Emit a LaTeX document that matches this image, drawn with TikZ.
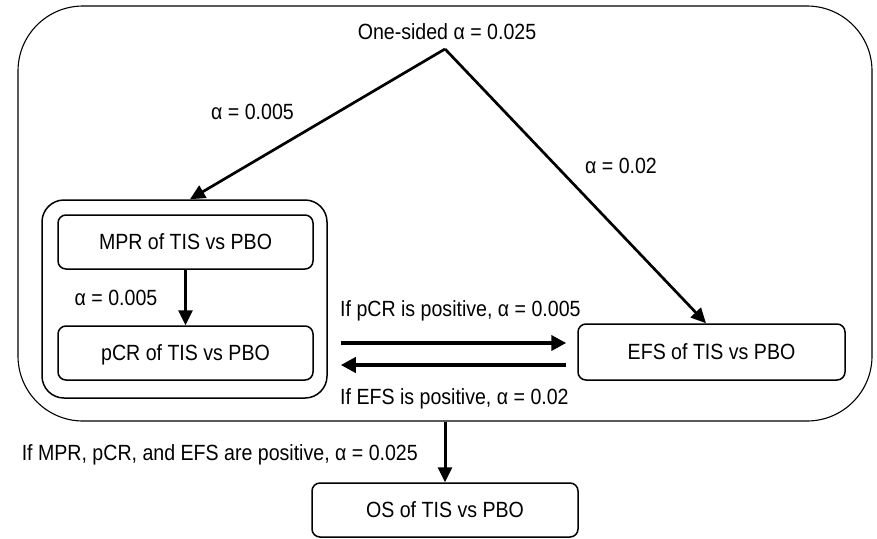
\documentclass[tikz,border=0pt]{standalone}
\usepackage{fontspec}
\setmainfont{Liberation Sans}[FakeStretch=0.89]
\usetikzlibrary{arrows.meta,calc}
\newcommand{\lblfont}{\fontsize{22}{26}\selectfont}
\begin{document}
\begin{tikzpicture}[x=1pt,y=-1pt,
  lbl/.style={font=\lblfont, inner sep=0pt},
  stepbox/.style={draw, line width=1.5pt, rounded corners=8pt, inner sep=0pt,
    text height=15.7pt, text depth=0pt, font=\lblfont},
  darrow/.style={line width=2.7pt, -{Triangle[length=15pt,width=14pt]}},
  varrow/.style={line width=3pt, -{Triangle[length=15pt,width=14pt]}},
  harrow/.style={line width=4.5pt, -{Triangle[length=15pt,width=15pt]}}]
\useasboundingbox (0,0) rectangle (877,538);
% containers
\node[draw, line width=1.1pt, rounded corners=65pt, minimum width=854pt, minimum height=415pt, inner sep=0pt] (outer) at (445,213.5) {};
\node[draw, line width=1.5pt, rounded corners=22pt, minimum width=285pt, minimum height=198pt, inner sep=0pt] (grp) at (184.5,299) {};
% boxes
\node[stepbox, minimum width=255pt, minimum height=54pt] (mpr) at (185.5,242) {MPR of TIS vs PBO};
\node[stepbox, minimum width=255pt, minimum height=54pt] (pcr) at (185.5,353) {pCR of TIS vs PBO};
\node[stepbox, minimum width=267pt, minimum height=56pt] (efs) at (711.5,352) {EFS of TIS vs PBO};
\node[stepbox, minimum width=266pt, minimum height=54pt] (os) at (445,510) {OS of TIS vs PBO};
% top
\node[lbl, anchor=base] (toplbl) at (447,39) {One-sided α = 0.025};
\coordinate (apex) at (445,49);
% connectors
\draw[darrow] (apex) -- ([xshift=5.5pt]grp.north);
\draw[darrow] (apex) -- ([xshift=-5.5pt]efs.north);
\draw[varrow] (mpr.south) -- (pcr.north);
\draw[harrow] ([xshift=27pt,yshift=10pt]pcr.east) -- ([xshift=-11pt,yshift=9pt]efs.west);
\draw[harrow] ([xshift=-11pt,yshift=-13pt]efs.west) -- ([xshift=27pt,yshift=-12pt]pcr.east);
\draw[varrow] (outer.south) -- (os.north);
% labels
\node[lbl, anchor=base] (l1) at (252.5,119) {α = 0.005};
\node[lbl, anchor=base] (l2) at (621,173) {α = 0.02};
\node[lbl, anchor=base] (l3) at (116,305) {α = 0.005};
\node[lbl, anchor=base west] (l4) at (340,316) {If pCR is positive, α = 0.005};
\node[lbl, anchor=base west] (l5) at (340,404) {If EFS is positive, α = 0.02};
\node[lbl, anchor=base east] (l6) at (418,460) {If MPR, pCR, and EFS are positive, α = 0.025};
\end{tikzpicture}
\end{document}
